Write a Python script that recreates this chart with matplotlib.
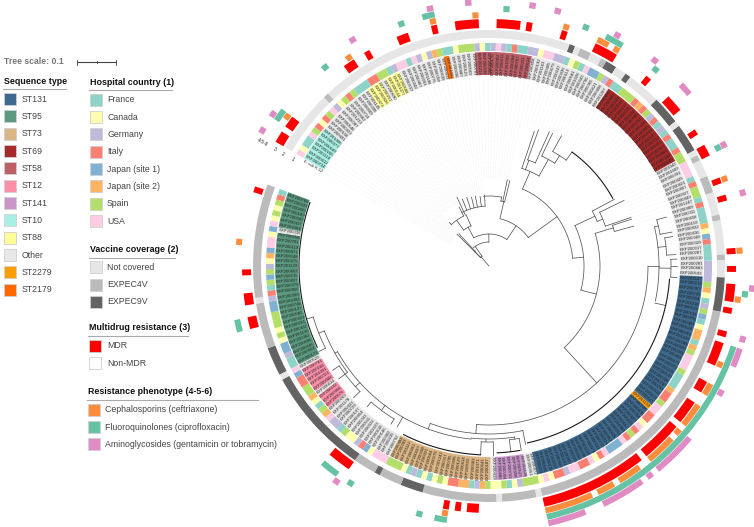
"""Circular core-genome tree with sequence type labels and metadata rings."""
from itertools import groupby

import matplotlib

matplotlib.use("Agg")
import matplotlib.pyplot as plt
import numpy as np
from matplotlib.patches import Rectangle

plt.rcParams["font.family"] = ["Liberation Sans", "DejaVu Sans"]

# leaf order is clockwise, starting at the gap in the upper left
LEAF_IDS = ["E. coli K-12"] + [f"EXP{n}" for n in """
200734 200812 201118 200265 200649 200377 201006 200491 200158 200923
200546 200087 201233 200362 200714 200609 200098 201145 200473 200826
200251 200690 200134 201077 200588 200319 200942 200467 200203 201186
200775 200059 200638 200411 201052 200296 200887 200123 200569 200741
201214 200338 200905 200176 200452 200613 201099 200284 200767 200031
200524 200858 200192 201163 200405 200679 200247 200936 200113 200581
201028 200343 200796 200065 200621 200498 201207 200272 200844 200149
200533 200917 200076 201134 200386 200702 200228 200965 200104 200597
200751 201061 200307 200869 200044 200949 201042 201049 200091 200425
200821 200807 200327 200449 201247 200909 200011 200658 200159 200832
200416 200049 200029 200317 200287 200310 200281 200883 200593 201187
200212 200067 200745 200354 201016 200629 200138 200978 200402 200516
200263 201228 200085 200693 200441 200856 200171 200372 201105 200539
200026 200787 200294 200915 200612 200147 201153 200336 200478 200054
200829 200223 200667 201084 200391 200506 200952 200116 200759 200241
200574 201199 200038 200683 200329 200897 200161 200447 201037 200218
200605 200072 200872 200351 201126 200527 200256 200733 200094 200986
200419 200187 200641 201071 200303 200555 200814 200129 200396 200705
200017 201242 200278 200564 200931 200208 200657 200361 201112 200083
200484 200792 200235 200902 200146 200618 201023 200322 200511 200041
200854 200197 200729 200433 201178 200269 200576 200958 200102 200634
200388 200021 201091 200244 200781 200529 200173 200864 200346 200696
200062 201155 200412 200291 200923 200585 200137 200748 201002 200309
200456 200079 200837 200215 200662 201129 200375 200548 200971 200110
200701 200258 200035 201064 200437 200603 200189 200895 200333 200768
""".split()]

SEQUENCE_RUNS = [("", 1), ("ST10", 7), ("Other", 11), ("ST88", 3), ("Other", 1), ("ST88", 3),
                 ("Other", 9), ("ST2179", 1), ("Other", 5), ("ST58", 11), ("Other", 16),
                 ("ST69", 19), ("Other", 23), ("ST131", 27), ("ST2279", 1), ("ST131", 25),
                 ("Other", 2), ("ST141", 6), ("Other", 1), ("ST73", 20), ("Other", 15),
                 ("ST12", 3), ("Other", 1), ("ST12", 5), ("Other", 1), ("ST95", 26),
                 ("Other", 1), ("ST95", 7)]

# one letter per leaf: F C G I A(Japan 1) B(Japan 2) S U
COUNTRY_LEAVES = (".UCFFUSICI" "SUGCSISFFF" "IISSFGUUFU" "GCGBSFFCSS" "SGCFGUGFIF"
                  "FGGCUUGGFC" "SFUAASGIFF" "SSSIBISGIF" "GFIFFISSUU" "UFISSFIFFF"
                  "BCAIFFFGGG" "GSBCFGSAFC" "BBFBSUUUSF" "FFBIISUUII" "CUISIUAAAU"
                  "ICUIIUUGII" "CUCSSSGCFS" "CCSBGFBBII" "CSCFCFGFCS" "SSUUUCAIGC"
                  "CSFGGUBSFC" "BSSIIAUFFG" "AACSCSSSAA" "GIFSASGCBA" "UUCAUCSCSIF")

VACCINE_RUNS = [("", 1), ("N", 11), ("4", 1), ("N", 45), ("9", 1), ("N", 1), ("4", 2), ("N", 2),
                ("4", 1), ("9", 2), ("N", 2), ("9", 1), ("N", 6), ("9", 5), ("N", 1), ("9", 5),
                ("N", 1), ("4", 1), ("N", 3), ("4", 3), ("N", 4), ("4", 1), ("N", 6), ("4", 1),
                ("N", 3), ("9", 6), ("4", 47), ("N", 1), ("4", 6), ("N", 1), ("4", 13), ("9", 4),
                ("4", 4), ("9", 1), ("4", 4), ("9", 19), ("N", 1), ("9", 5), ("4", 8), ("N", 1),
                ("4", 20)]

MDR_LEAVES = [1, 2, 4, 5, 18, 19, 22, 28, 29, 34, 38, 39, 40, 41, 45, 46, 47, 48, 50, 56,
              62, 63, 64, 65, 72, 77, 78, 79, 84, 87, 88, 93, 96, 105, 108, 111, 112, 113,
              115, 119, 121, 122, 123, 124, 128, 129, 132, 133, 134, 135,
              *range(137, 144), *range(145, 163), 174, 175, 177, 179,
              197, 198, 199, 200, 226, 227, 230, 231, 235, 249]
CEPH_LEAVES = [5, 19, 34, 41, 56, 62, 63, 65, 93, 105, 113, 124, 128, 129, 132, 133, 134, 135,
               137, *range(139, 144), *range(146, 150), 151, 152, 153, *range(155, 163),
               179, 240]
FQ_LEAVES = [4, 5, 15, 29, 33, 34, 46, 59, 63, 64, 65, 72, 88, 112, *range(121, 163),
             179, 180, 183, 195, 198, 199, 200, 226, 227]
AMINO_LEAVES = [1, 4, 21, 34, 40, 50, 54, 64, 71, 77, 78, 88, 96, 111, 119, 121, 122, 123, 128,
                *range(137, 144), 145, *range(147, 154), *range(157, 163), 197]

# branch depth where each run of leaves stops, used for the dotted guides
TIP_RUNS = [(45, 14), (70, 27), (88, 12), (148, 16), (141, 18), (150, 10), (186, 14),
            (181, 53), (187, 8), (189, 21), (186, 24), (190, 34)]

# (depth, first leaf, last leaf)
TREE_ARCS = [(12, 11, 18), (20, 11, 12.5), (24, 14.6, 43), (32, 23, 67.5), (44, 18, 26),
             (56, 13, 24), (60, 24, 40.6), (70, 40, 50.6), (66, 50.6, 53), (48.5, 52.5, 81.8),
             (84, 60, 103.7), (95, 89.5, 118), (117, 87.5, 91.5), (123, 89, 94), (111, 95.3, 141.3),
             (130, 94.5, 96.5), (159, 107.5, 175), (170, 98, 116), (174, 96.5, 100),
             (178, 101, 105), (182, 106, 110), (168, 163.5, 186.4), (174, 176, 215),
             (173, 165.7, 176), (176, 170.8, 173.6), (175, 164.7, 167), (180, 194.5, 201),
             (180, 204.5, 212), (177, 209.7, 220.7), (183, 217, 224.5), (103, 56.5, 64),
             (113, 57.5, 60.5), (122, 61.5, 66.5), (131, 64, 69)]
# comb-like clades that print as dark lines
TREE_DARK_ARCS = [(181, 110.5, 163), (189, 173.6, 191), (187, 165, 170), (190, 218, 250),
                  (141, 69, 87)]
# (leaf, inner depth, outer depth)
TREE_SPOKES = [(14, 0, 12), (11, 12, 45), (12.5, 20, 44), (11.5, 12, 20), (18, 12, 24),
               (43, 24, 32), (23, 32, 44), (18, 44, 56), (26, 44, 56), (13, 56, 59),
               (24, 56, 66), (25.4, 56, 76), (27.7, 60, 72), (30.4, 60, 72), (33, 60, 71),
               (35.3, 60, 71), (38, 60, 70), (40.6, 60, 71), (50.6, 66, 70), (53, 66, 88),
               (51.8, 66, 88), (52.5, 49, 66), (67.5, 32, 48.5), (81.8, 48.5, 84),
               (103.7, 84, 95), (89.5, 95, 117), (87.5, 117, 142), (91.5, 117, 123),
               (89, 123, 150), (94, 123, 150), (118, 95, 111), (95.3, 111, 130),
               (94.5, 130, 150), (96.5, 130, 150), (141.3, 111, 159), (107.5, 159, 170),
               (116.5, 170, 181), (98, 170, 174), (96.5, 174, 184), (100, 174, 186),
               (103, 170, 178), (101, 178, 186), (105, 178, 187), (108, 170, 182),
               (106, 182, 188), (107.5, 182, 188), (110, 182, 188), (175, 159, 168),
               (163.5, 168, 182), (186.4, 168, 174), (172.5, 173, 176), (170.8, 176, 190),
               (173.6, 176, 189), (165.7, 173, 175), (164.7, 175, 187), (167, 175, 187),
               (198, 174, 180), (194.5, 180, 186), (201, 180, 186), (193, 174, 185),
               (206, 174, 180), (204.5, 180, 189), (212, 180, 188), (215, 174, 177),
               (209.7, 177, 188), (220.7, 177, 183), (217, 183, 190), (224.5, 183, 190),
               (60, 84, 103), (56.5, 103, 142), (58, 103, 113), (57.5, 113, 145),
               (60.5, 113, 147), (64, 103, 122), (61.5, 122, 147), (66.5, 122, 131),
               (64, 131, 149), (69, 131, 141)]

SEQUENCE_TYPES = ["ST131", "ST95", "ST73", "ST69", "ST58", "ST12", "ST141", "ST10", "ST88",
                  "Other", "ST2279", "ST2179"]
COUNTRIES = ["France", "Canada", "Germany", "Italy", "Japan (site 1)", "Japan (site 2)",
             "Spain", "USA"]
VACCINES = ["Not covered", "EXPEC4V", "EXPEC9V"]
MDR_NAMES = ["MDR", "Non-MDR"]
PHENOTYPES = ["Cephalosporins (ceftriaxone)", "Fluoroquinolones (ciprofloxacin)",
              "Aminoglycosides (gentamicin or tobramycin)"]

SEQ_COLORS = dict(zip(SEQUENCE_TYPES, [
    "#3d6a8e", "#5b9a80", "#dcb585", "#a52a2a", "#bd5f68", "#fb8fa8", "#c896c9", "#a8efe4",
    "#ffff99", "#e8e8e8", "#ff9e00", "#ff6a00"]))
COUNTRY_COLORS = dict(zip("FCGIABSU", ["#8dd3c7", "#ffffb3", "#bebada", "#fb8072", "#80b1d3",
                                       "#fdb462", "#b3de69", "#fccde5"]))
VACCINE_COLORS = {"N": "#e6e6e6", "4": "#bbbbbb", "9": "#636363"}
MDR_COLOR, CEPH_COLOR, FQ_COLOR, AMINO_COLOR = "#ff0000", "#fc8d3c", "#66c2a5", "#e08bc3"

LEAF_STEP = 1.4     # degrees
START_DEG = -60.5   # clockwise from north
CENTER = (489, 266)
R_MAX = 270         # polar axes radius is set to one data unit per pixel


def theta(i):
    return np.radians(START_DEG + LEAF_STEP * np.asarray(i, dtype=float))


def expand(runs):
    return [name for name, n in runs for _ in range(n)]


def draw_ring(ax, leaves, r0, r1, colors):
    # merge neighbouring leaves so no seams show between the wedges
    i = 0
    for name, group in groupby(leaves):
        n = len(list(group))
        if name in colors:
            ax.bar(theta(i + (n - 1) / 2), r1 - r0, width=np.radians(LEAF_STEP * n), bottom=r0,
                   color=colors[name], linewidth=0)
        i += n


def draw_presence(ax, indices, r0, r1, color):
    flags = ["y" if i in set(indices) else "" for i in range(len(LEAF_IDS))]
    draw_ring(ax, flags, r0, r1, {"y": color})


def draw_legend(ax, title, title_x, title_y, line_end, names, colors, swatch_x, label_x, ys):
    ax.text(title_x, title_y, title, fontsize=6.4, fontweight="bold", color="#111111", va="center")
    ax.plot([title_x - 1, line_end], [title_y + 7.6, title_y + 7.6], color="#aaaaaa", lw=0.8)
    for name, color, y in zip(names, colors, ys):
        ax.add_patch(Rectangle((swatch_x, y - 6), 12, 12, facecolor=color, edgecolor="#d0d0d0", lw=0.6))
        ax.text(label_x, y, name, fontsize=6.3, color="#444444", va="center")


fig = plt.figure(figsize=(7.54, 5.27), dpi=100)

ax = fig.add_axes([(CENTER[0] - R_MAX) / 754, 1 - (CENTER[1] + R_MAX) / 527,
                   2 * R_MAX / 754, 2 * R_MAX / 527], projection="polar")
ax.set_theta_zero_location("N")
ax.set_theta_direction(-1)
ax.set_ylim(0, R_MAX)
ax.axis("off")
ax.patch.set_alpha(0)

sequence_leaves = expand(SEQUENCE_RUNS)
vaccine_leaves = expand(VACCINE_RUNS)
tips = expand(TIP_RUNS)

# dotted guides from the tips out to the labels
for i, tip in enumerate(tips):
    ax.plot([theta(i), theta(i)], [tip, 190], color="#d8d8d8", lw=0.3, ls=(0, (1, 3)), zorder=1)

# tree
for i, r0, r1 in TREE_SPOKES:
    ax.plot([theta(i), theta(i)], [r0, r1], color="#555555", lw=0.55, zorder=2)
for r, i0, i1 in TREE_ARCS:
    ts = np.linspace(theta(i0), theta(i1), 60)
    ax.plot(ts, np.full(60, r), color="#555555", lw=0.55, zorder=2)
for r, i0, i1 in TREE_DARK_ARCS:
    ts = np.linspace(theta(i0), theta(i1), 60)
    ax.plot(ts, np.full(60, r), color="#1a1a1a", lw=0.8, zorder=2)

# rings, from the label band outwards
draw_ring(ax, sequence_leaves, 191, 214, SEQ_COLORS)
draw_ring(ax, COUNTRY_LEAVES, 215, 223, COUNTRY_COLORS)
draw_ring(ax, vaccine_leaves, 228, 236, VACCINE_COLORS)
draw_presence(ax, MDR_LEAVES, 238, 247, MDR_COLOR)
draw_presence(ax, CEPH_LEAVES, 248, 254, CEPH_COLOR)
draw_presence(ax, FQ_LEAVES, 254.5, 260.5, FQ_COLOR)
draw_presence(ax, AMINO_LEAVES, 261, 267, AMINO_COLOR)

# leaf labels read outwards on the right half, inwards on the left
for i, name in enumerate(LEAF_IDS):
    angle = 90 - (START_DEG + LEAF_STEP * i)
    rot = angle if np.cos(np.radians(angle)) >= 0 else angle + 180
    ax.text(theta(i), 202.5, name, fontsize=3.1, rotation=rot, rotation_mode="anchor",
            ha="center", va="center", color="#222222", zorder=4)

# ring numbers at the start of the circle
for name, r in zip(["1", "2", "3", "4-5-6"], [224, 235, 244, 258]):
    ax.text(np.radians(90 - 151.5), r, name, fontsize=3.4, rotation=-29, rotation_mode="anchor",
            ha="center", va="center", color="#222222")

# legends are laid out in picture pixels
lg = fig.add_axes([0, 0, 1, 1])
lg.set_xlim(0, 754)
lg.set_ylim(527, 0)
lg.axis("off")
lg.patch.set_alpha(0)

lg.text(4, 62, "Tree scale: 0.1", fontsize=6.2, fontweight="bold", color="#777777", va="center")
lg.plot([77, 116], [62, 62], color="#444444", lw=0.8)
for x, h in [(77, 2.5), (96.5, 1.2), (116, 2.5)]:
    lg.plot([x, x], [62 - h, 62 + h], color="#444444", lw=0.6)

draw_legend(lg, "Sequence type", 4, 81.7, 66, SEQUENCE_TYPES,
            [SEQ_COLORS[s] for s in SEQUENCE_TYPES], 4, 21.7,
            [99, 116.3, 133.7, 151, 168.3, 185.7, 203, 220.3, 237.7, 255, 272.3, 289.7])
draw_legend(lg, "Hospital country (1)", 90, 82.3, 172, COUNTRIES,
            [COUNTRY_COLORS[c] for c in "FCGIABSU"], 89.5, 107,
            [100, 117.3, 134.3, 151.7, 169, 186.3, 203.7, 221])
draw_legend(lg, "Vaccine coverage (2)", 90, 250, 175, VACCINES,
            [VACCINE_COLORS[v] for v in "N49"], 89.5, 107, [267.3, 284.7, 301.7])
draw_legend(lg, "Multidrug resistance (3)", 89, 328, 188, MDR_NAMES,
            [MDR_COLOR, "#ffffff"], 89, 107, [346, 363.3])
draw_legend(lg, "Resistance phenotype (4-5-6)", 87.5, 392, 258, PHENOTYPES,
            [CEPH_COLOR, FQ_COLOR, AMINO_COLOR], 87.5, 105, [409.7, 427, 444.3])

fig.savefig("out.png", dpi=100)
